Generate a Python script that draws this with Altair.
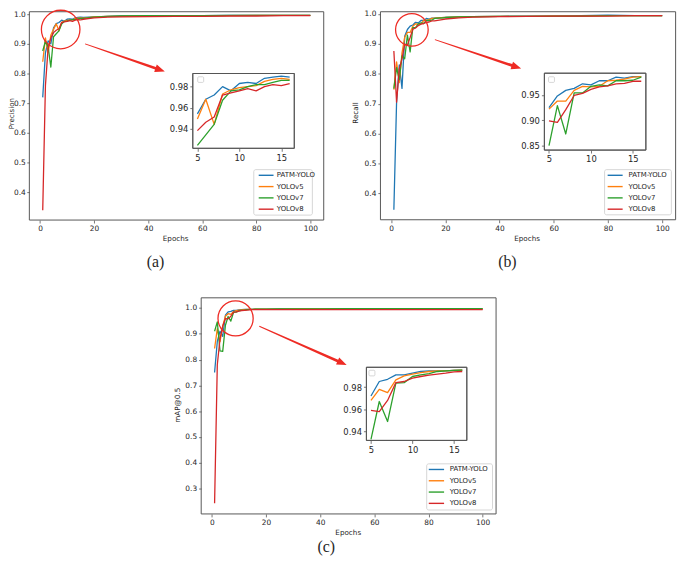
import math
import pandas as pd
import altair as alt

# ---------------- data ----------------
models = ["PATM-YOLO", "YOLOv5", "YOLOv7", "YOLOv8"]
colors = ["#1f77b4", "#ff7f0e", "#2ca02c", "#d62728"]
epochs = [1, 2, 3, 4, 5, 6, 7, 8, 9, 10, 11, 12, 13, 14, 15, 16, 20, 25, 30, 40, 50, 60, 70, 80, 90, 100]

prec_patm = [0.72, 0.87, 0.91, 0.90, 0.954, 0.968, 0.972, 0.980, 0.976, 0.983, 0.984, 0.983, 0.988, 0.989, 0.990, 0.989, 0.991, 0.993, 0.994, 0.994, 0.995, 0.995, 0.996, 0.996, 0.996, 0.996]
prec_v5 = [0.84, 0.92, 0.87, 0.93, 0.949, 0.968, 0.944, 0.973, 0.977, 0.979, 0.980, 0.981, 0.985, 0.987, 0.988, 0.987, 0.991, 0.993, 0.993, 0.994, 0.995, 0.995, 0.995, 0.996, 0.996, 0.996]
prec_v7 = [0.876, 0.909, 0.89, 0.822, 0.924, 0.934, 0.944, 0.967, 0.976, 0.977, 0.980, 0.982, 0.982, 0.984, 0.986, 0.986, 0.990, 0.993, 0.994, 0.995, 0.995, 0.995, 0.996, 0.996, 0.996, 0.996]
prec_v8 = [0.34, 0.76, 0.887, 0.92, 0.938, 0.946, 0.951, 0.972, 0.974, 0.976, 0.978, 0.976, 0.980, 0.982, 0.981, 0.983, 0.988, 0.990, 0.991, 0.992, 0.993, 0.993, 0.994, 0.994, 0.995, 0.995]

rec_patm = [0.345, 0.705, 0.83, 0.751, 0.925, 0.948, 0.959, 0.963, 0.972, 0.970, 0.978, 0.978, 0.985, 0.983, 0.986, 0.986, 0.988, 0.990, 0.991, 0.992, 0.993, 0.993, 0.994, 0.996, 0.994, 0.994]
rec_v5 = [0.747, 0.84, 0.77, 0.87, 0.922, 0.938, 0.938, 0.959, 0.967, 0.966, 0.967, 0.978, 0.979, 0.981, 0.985, 0.986, 0.988, 0.990, 0.991, 0.992, 0.992, 0.993, 0.993, 0.994, 0.994, 0.994]
rec_v7 = [0.75, 0.82, 0.78, 0.86, 0.850, 0.929, 0.873, 0.954, 0.954, 0.967, 0.970, 0.968, 0.978, 0.978, 0.979, 0.985, 0.988, 0.990, 0.991, 0.992, 0.992, 0.993, 0.993, 0.994, 0.994, 0.994]
rec_v8 = [0.876, 0.705, 0.815, 0.85, 0.899, 0.896, 0.921, 0.949, 0.953, 0.961, 0.966, 0.968, 0.972, 0.973, 0.977, 0.977, 0.983, 0.987, 0.989, 0.991, 0.992, 0.993, 0.993, 0.993, 0.994, 0.994]

map_patm = [0.75, 0.87, 0.91, 0.89, 0.972, 0.985, 0.987, 0.991, 0.991, 0.9925, 0.994, 0.9945, 0.9945, 0.9945, 0.995, 0.9953, 0.996, 0.997, 0.997, 0.997, 0.997, 0.997, 0.997, 0.997, 0.997, 0.997]
map_v5 = [0.843, 0.92, 0.87, 0.93, 0.968, 0.978, 0.975, 0.9865, 0.990, 0.9916, 0.993, 0.994, 0.9945, 0.9945, 0.995, 0.9953, 0.996, 0.996, 0.997, 0.997, 0.997, 0.997, 0.997, 0.997, 0.997, 0.997]
map_v7 = [0.91, 0.946, 0.834, 0.832, 0.933, 0.967, 0.949, 0.9836, 0.984, 0.9895, 0.991, 0.992, 0.994, 0.9945, 0.995, 0.9953, 0.996, 0.997, 0.997, 0.997, 0.998, 0.998, 0.998, 0.998, 0.998, 0.998]
map_v8 = [0.243, 0.78, 0.88, 0.93, 0.959, 0.958, 0.968, 0.984, 0.985, 0.988, 0.9895, 0.9907, 0.9916, 0.9925, 0.9936, 0.994, 0.994, 0.994, 0.994, 0.994, 0.994, 0.994, 0.994, 0.994, 0.994, 0.994]

main_xticks = [0, 20, 40, 60, 80, 100]
inset_xticks = [5, 10, 15]

# ---------------- layout (reference-image pixel coordinates) ----------------
W, H = 677, 550
OX, OY = 8, 8
RED = "#ee2b24"
TXT = "#262626"
SPINE = "#555555"


def px(X):
    return X - OX


def py(Y):
    return Y - OY


panels = [
    dict(series=[prec_patm, prec_v5, prec_v7, prec_v8], ytitle="Precision", caption="(a)",
         main_x=(29.6, 327.5), main_y=(219.3, 8.5), main_ydom=(0.3068, 1.0083),
         main_yticks=[0.4, 0.5, 0.6, 0.7, 0.8, 0.9, 1.0],
         ins_x=(195.0, 297.7), ins_y=(146.7, 71.0), ins_ydom=(0.92113, 0.99255), ins_yticks=[0.94, 0.96, 0.98],
         leg_box=(256.7, 316.0, 168.3, 214.3), leg_rows=(174.0, 208.3), leg_line=(261.7, 276.7), leg_text=280.0,
         circle=(61.3, 26.5, 19.5), arrow=((86.0, 41.0), (166.7, 69.0)), empty=(200.0, 206.0, 74.3, 80.0),
         xtpos=(177.7, 238.0), ytpos=(11.9, 111.7), cap=(157.2, 261.7)),
    dict(series=[rec_patm, rec_v5, rec_v7, rec_v8], ytitle="Recall", caption="(b)",
         main_x=(384.9, 683.6), main_y=(219.0, 8.5), main_ydom=(0.3118, 1.0073),
         main_yticks=[0.4, 0.5, 0.6, 0.7, 0.8, 0.9, 1.0],
         ins_x=(550.8, 653.5), ins_y=(148.5, 70.7), ins_ydom=(0.84123, 0.99289), ins_yticks=[0.85, 0.90, 0.95],
         leg_box=(611.7, 679.3, 168.3, 214.0), leg_rows=(174.0, 208.3), leg_line=(614.8, 630.0), leg_text=636.0,
         circle=(416.7, 26.8, 16.5), arrow=((440.0, 36.7), (527.3, 66.0)), empty=(555.0, 561.0, 74.3, 80.0),
         xtpos=(533.3, 238.0), ytpos=(360.0, 111.0), cap=(513.3, 261.7)),
    dict(series=[map_patm, map_v5, map_v7, map_v8], ytitle="mAP@0.5", caption="(c)",
         main_x=(203.5, 501.9), main_y=(516.7, 298.0), main_ydom=(0.2015, 1.0395),
         main_yticks=[0.3, 0.4, 0.5, 0.6, 0.7, 0.8, 0.9, 1.0],
         ins_x=(370.7, 472.3), ins_y=(442.3, 368.3), ins_ydom=(0.932, 0.99778), ins_yticks=[0.94, 0.96, 0.98],
         leg_box=(431.7, 498.3, 466.0, 512.7), leg_rows=(471.7, 506.0), leg_line=(433.8, 449.3), leg_text=455.0,
         circle=(238.3, 318.8, 17.8), arrow=((262.3, 326.7), (350.7, 366.0)), empty=(373.3, 379.3, 371.3, 377.0),
         xtpos=(352.3, 535.7), ytpos=(180.0, 406.7), cap=(330.0, 550.5)),
]

cscale = alt.Scale(domain=models, range=colors)
one = pd.DataFrame({"t": [""]})


def long_df(series):
    rows = []
    for m, vals in zip(models, series):
        for e, v in zip(epochs, vals):
            rows.append({"model": m, "epoch": e, "value": v})
    return pd.DataFrame(rows)


def axis_style(fs, pad=2, tick=3):
    return dict(title=None, grid=False, domain=False, ticks=True, tickSize=tick, tickWidth=0.8,
                tickColor=SPINE, labelFont="DejaVu Sans", labelFontSize=fs, labelColor=TXT,
                labelPadding=pad, labelFlush=False, labelOverlap=False)


def rect(x0, x1, y0, y1, **kw):
    return alt.Chart(one).mark_rect(**kw).encode(
        x=alt.value(px(x0)), x2=alt.value(px(x1)),
        y=alt.value(max(py(y0), 0.5)), y2=alt.value(py(y1)))


def text(label, X, Y, size, font, angle=0):
    return alt.Chart(pd.DataFrame({"t": [label]})).mark_text(
        align="center", baseline="middle", font=font, fontSize=size, color=TXT, angle=angle
    ).encode(x=alt.value(px(X)), y=alt.value(py(Y)), text="t:N")


def arrow_path(length):
    """Tapered arrow (thin tail, wide head) as a custom symbol path in [-1, 1] units."""
    h = length / 2.0
    hl, tail, shaft, head = 10.0 / h, 0.5 / h, 1.4 / h, 4.0 / h
    b = 1 - hl
    f = lambda v: f"{v:.4f}"
    return (f"M-1,{f(-tail)}L{f(b)},{f(-shaft)}L{f(b)},{f(-head)}L1,0"
            f"L{f(b)},{f(head)}L{f(b)},{f(shaft)}L-1,{f(tail)}Z")


layers = []
for i, p in enumerate(panels):
    df = long_df(p["series"])
    mx0, mx1 = p["main_x"]
    myb, myt = p["main_y"]
    ix0, ix1 = p["ins_x"]
    iyb, iyt = p["ins_y"]
    ypad = 1.5 if i == 0 else 2

    main = alt.Chart(df).mark_line(strokeWidth=1.3, strokeJoin="round").encode(
        x=alt.X("epoch:Q",
                scale=alt.Scale(domain=[-3.95, 104.95], range=[px(mx0), px(mx1)], nice=False, zero=False),
                axis=alt.Axis(orient="bottom", offset=py(myb) - H, values=main_xticks, format="d", **axis_style(7.5))),
        y=alt.Y("value:Q",
                scale=alt.Scale(domain=list(p["main_ydom"]), range=[py(myb), max(py(myt), 0.5)], nice=False, zero=False),
                axis=alt.Axis(orient="left", offset=-px(mx0), values=p["main_yticks"], format=".1f",
                              **axis_style(7.5, pad=ypad, tick=2.6))),
        color=alt.Color("model:N", scale=cscale, legend=None),
    )

    inset_bg = rect(ix0, ix1, iyt, iyb, fill="white", stroke=SPINE, strokeWidth=1)
    inset = alt.Chart(df).transform_filter(
        (alt.datum.epoch >= 5) & (alt.datum.epoch <= 16)
    ).mark_line(strokeWidth=1.3, strokeJoin="round").encode(
        x=alt.X("epoch:Q",
                scale=alt.Scale(domain=[4.45, 16.55], range=[px(ix0), px(ix1)], nice=False, zero=False),
                axis=alt.Axis(orient="bottom", offset=py(iyb) - H, values=inset_xticks, format="d", **axis_style(8.5))),
        y=alt.Y("value:Q",
                scale=alt.Scale(domain=list(p["ins_ydom"]), range=[py(iyb), py(iyt)], nice=False, zero=False),
                axis=alt.Axis(orient="left", offset=-px(ix0), values=p["ins_yticks"], format=".2f", **axis_style(8.5))),
        color=alt.Color("model:N", scale=cscale, legend=None),
    )
    inset_frame = rect(ix0, ix1, iyt, iyb, fill="white", fillOpacity=0, stroke=SPINE, strokeWidth=1)
    ex0, ex1, ey0, ey1 = p["empty"]
    empty_box = rect(ex0, ex1, ey0, ey1, fill="white", stroke="#cccccc", strokeWidth=0.8, cornerRadius=1)

    main_frame = rect(mx0, mx1, myt, myb, fill="white", fillOpacity=0, stroke=SPINE, strokeWidth=1)

    bx0, bx1, by0, by1 = p["leg_box"]
    leg_box = rect(bx0, bx1, by0, by1, fill="white", stroke="#cccccc", strokeWidth=0.8, cornerRadius=2)
    r0, r3 = p["leg_rows"]
    lscale = alt.Scale(type="point", domain=models, range=[py(r0), py(r3)], padding=0)
    ldf = pd.DataFrame({"model": models})
    l0, l1 = p["leg_line"]
    leg_lines = alt.Chart(ldf).mark_rule(strokeWidth=1.4).encode(
        x=alt.value(px(l0)), x2=alt.value(px(l1)),
        y=alt.Y("model:N", scale=lscale, axis=None),
        color=alt.Color("model:N", scale=cscale, legend=None))
    leg_text = alt.Chart(ldf).mark_text(align="left", baseline="middle", font="DejaVu Sans",
                                        fontSize=7, color=TXT).encode(
        x=alt.value(px(p["leg_text"])),
        y=alt.Y("model:N", scale=lscale, axis=None),
        text="model:N")

    ccx, ccy, cr = p["circle"]
    circle = alt.Chart(one).mark_point(shape="circle", size=(2 * cr) ** 2, filled=False, color=RED,
                                       strokeWidth=1.3, opacity=1).encode(
        x=alt.value(px(ccx)), y=alt.value(py(ccy)))

    (sx, sy), (tx, ty) = p["arrow"]
    ang = math.degrees(math.atan2(ty - sy, tx - sx))
    length = math.hypot(tx - sx, ty - sy)
    arrow = alt.Chart(one).mark_point(shape=arrow_path(length), size=length ** 2, filled=True,
                                      color=RED, opacity=1, strokeWidth=0, angle=ang).encode(
        x=alt.value(px((sx + tx) / 2)), y=alt.value(py((sy + ty) / 2)))

    xt = text("Epochs", p["xtpos"][0], p["xtpos"][1], 7.3, "DejaVu Sans")
    yt = text(p["ytitle"], p["ytpos"][0], p["ytpos"][1], 7.1 if i == 0 else 7.3, "DejaVu Sans", angle=270)
    cap = text(p["caption"], p["cap"][0], p["cap"][1], 16, "Liberation Serif")

    layers += [main, main_frame, inset_bg, inset, inset_frame, empty_box,
               leg_box, leg_lines, leg_text, circle, arrow, xt, yt, cap]

chart = alt.layer(*layers).resolve_scale(
    x="independent", y="independent", color="shared"
).properties(
    width=W, height=H, padding=0, autosize=alt.AutoSizeParams(type="none")
).configure_view(strokeWidth=0)

chart.save("out.html", embed_options={"renderer": "svg", "actions": False})
